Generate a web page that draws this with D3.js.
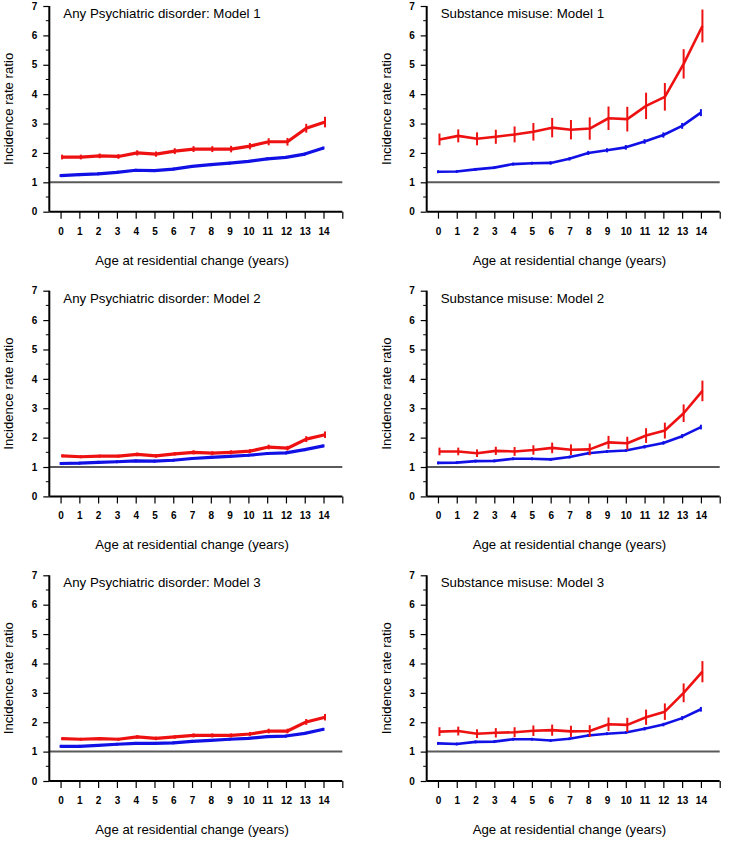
<!DOCTYPE html>
<html>
<head>
<meta charset="utf-8">
<script src="https://cdn.jsdelivr.net/npm/d3@7"></script>
<style>
  html, body { margin: 0; padding: 0; background: #fff; }
  svg { display: block; font-family: "Liberation Sans", Arial, Helvetica, sans-serif; }
</style>
</head>
<body>
<svg id="chart" width="729" height="841"></svg>
<script>
// ---------- data ----------
const ages = [0, 1, 2, 3, 4, 5, 6, 7, 8, 9, 10, 11, 12, 13, 14];
const xTickValues = [0, 1, 2, 3, 4, 5, 6, 7, 8, 9, 10, 11, 12, 13, 14, 15];
const yTickValues = [0, 1, 2, 3, 4, 5, 6, 7];
const yMinorTicks = [0.5, 1.5, 2.5, 3.5, 4.5, 5.5, 6.5];

const titles = [
  "Any Psychiatric disorder: Model 1", "Substance misuse: Model 1",
  "Any Psychiatric disorder: Model 2", "Substance misuse: Model 2",
  "Any Psychiatric disorder: Model 3", "Substance misuse: Model 3"
];

// Any psychiatric disorder, model 1
const psychM1Red     = [1.86, 1.86, 1.90, 1.88, 2.00, 1.96, 2.06, 2.13, 2.13, 2.13, 2.23, 2.38, 2.38, 2.84, 3.05];
const psychM1RedErr  = [0.08, 0.08, 0.08, 0.08, 0.09, 0.09, 0.10, 0.10, 0.10, 0.11, 0.11, 0.12, 0.13, 0.15, 0.18];
const psychM1Blue    = [1.23, 1.26, 1.29, 1.34, 1.41, 1.40, 1.45, 1.54, 1.60, 1.65, 1.71, 1.80, 1.85, 1.96, 2.17];
const psychM1BlueErr = [0.02, 0.02, 0.02, 0.02, 0.02, 0.02, 0.02, 0.03, 0.03, 0.03, 0.03, 0.03, 0.03, 0.04, 0.05];

// Substance misuse, model 1
const substM1Red     = [2.46, 2.58, 2.48, 2.55, 2.63, 2.72, 2.86, 2.79, 2.83, 3.18, 3.15, 3.60, 3.91, 5.03, 6.32];
const substM1RedErr  = [0.20, 0.22, 0.22, 0.24, 0.27, 0.30, 0.33, 0.33, 0.38, 0.40, 0.42, 0.45, 0.47, 0.50, 0.56];
const substM1Blue    = [1.36, 1.37, 1.44, 1.50, 1.62, 1.65, 1.66, 1.80, 2.00, 2.09, 2.19, 2.39, 2.61, 2.92, 3.37];
const substM1BlueErr = [0.04, 0.04, 0.04, 0.05, 0.05, 0.05, 0.06, 0.06, 0.07, 0.07, 0.08, 0.08, 0.09, 0.10, 0.12];

// Any psychiatric disorder, model 2
const psychM2Red     = [1.38, 1.35, 1.37, 1.37, 1.43, 1.38, 1.45, 1.50, 1.47, 1.50, 1.54, 1.68, 1.64, 1.95, 2.10];
const psychM2RedErr  = [0.05, 0.05, 0.05, 0.05, 0.06, 0.06, 0.06, 0.07, 0.07, 0.07, 0.07, 0.08, 0.08, 0.10, 0.11];
const psychM2Blue    = [1.12, 1.13, 1.16, 1.18, 1.21, 1.20, 1.23, 1.29, 1.33, 1.36, 1.40, 1.46, 1.48, 1.59, 1.72];
const psychM2BlueErr = [0.02, 0.02, 0.02, 0.02, 0.02, 0.02, 0.02, 0.02, 0.02, 0.02, 0.02, 0.02, 0.03, 0.03, 0.03];

// Substance misuse, model 2
const substM2Red     = [1.53, 1.53, 1.47, 1.55, 1.53, 1.58, 1.65, 1.59, 1.60, 1.84, 1.81, 2.07, 2.24, 2.83, 3.59];
const substM2RedErr  = [0.13, 0.13, 0.13, 0.14, 0.15, 0.16, 0.18, 0.18, 0.20, 0.22, 0.22, 0.25, 0.27, 0.30, 0.35];
const substM2Blue    = [1.14, 1.15, 1.20, 1.21, 1.28, 1.28, 1.26, 1.34, 1.47, 1.53, 1.56, 1.69, 1.82, 2.05, 2.36];
const substM2BlueErr = [0.03, 0.03, 0.03, 0.03, 0.04, 0.04, 0.04, 0.04, 0.05, 0.05, 0.05, 0.06, 0.06, 0.07, 0.08];

// Any psychiatric disorder, model 3
const psychM3Red     = [1.44, 1.42, 1.44, 1.42, 1.50, 1.45, 1.50, 1.55, 1.55, 1.55, 1.60, 1.70, 1.70, 2.01, 2.17];
const psychM3RedErr  = [0.05, 0.05, 0.05, 0.05, 0.06, 0.06, 0.06, 0.07, 0.07, 0.07, 0.07, 0.08, 0.08, 0.10, 0.11];
const psychM3Blue    = [1.18, 1.18, 1.21, 1.25, 1.28, 1.28, 1.30, 1.35, 1.38, 1.42, 1.45, 1.51, 1.53, 1.62, 1.76];
const psychM3BlueErr = [0.02, 0.02, 0.02, 0.02, 0.02, 0.02, 0.02, 0.02, 0.02, 0.02, 0.02, 0.02, 0.03, 0.03, 0.03];

// Substance misuse, model 3
const substM3Red     = [1.68, 1.70, 1.61, 1.64, 1.66, 1.71, 1.73, 1.69, 1.70, 1.93, 1.91, 2.17, 2.36, 3.00, 3.72];
const substM3RedErr  = [0.15, 0.15, 0.15, 0.16, 0.17, 0.18, 0.19, 0.19, 0.20, 0.23, 0.24, 0.26, 0.28, 0.32, 0.36];
const substM3Blue    = [1.28, 1.26, 1.33, 1.34, 1.42, 1.42, 1.38, 1.44, 1.55, 1.61, 1.65, 1.78, 1.92, 2.14, 2.44];
const substM3BlueErr = [0.03, 0.03, 0.03, 0.03, 0.04, 0.04, 0.04, 0.04, 0.05, 0.05, 0.05, 0.06, 0.06, 0.07, 0.08];

const panelsData = [
  { red: psychM1Red, redErr: psychM1RedErr, blue: psychM1Blue, blueErr: psychM1BlueErr },
  { red: substM1Red, redErr: substM1RedErr, blue: substM1Blue, blueErr: substM1BlueErr },
  { red: psychM2Red, redErr: psychM2RedErr, blue: psychM2Blue, blueErr: psychM2BlueErr },
  { red: substM2Red, redErr: substM2RedErr, blue: substM2Blue, blueErr: substM2BlueErr },
  { red: psychM3Red, redErr: psychM3RedErr, blue: psychM3Blue, blueErr: psychM3BlueErr },
  { red: substM3Red, redErr: substM3RedErr, blue: substM3Blue, blueErr: substM3BlueErr }
];

// ---------- layout ----------
const colX = [49.3, 426.7];      // y-axis x position per column
const rowY = [6, 290.7, 575.3];  // top (value 7) per row
const plotW = 293;
const plotH = 205.7;
const redColor = "#ee1111";
const blueColor = "#1111e6";
const redDodge = 0.08;
const fontStack = "'Liberation Sans', Arial, sans-serif";

const svg = d3.select("#chart");

panelsData.forEach((p, i) => {
  const col = i % 2, row = Math.floor(i / 2);
  const ax = colX[col], top = rowY[row];
  const g = svg.append("g").attr("transform", `translate(${ax},${top})`);

  const x = d3.scaleLinear().domain([-0.6, 15]).range([0, plotW]);
  const y = d3.scaleLinear().domain([0, 7]).range([plotH, 0]);

  // reference line at 1
  g.append("line")
    .attr("x1", x(-0.6)).attr("x2", x(15))
    .attr("y1", y(1)).attr("y2", y(1))
    .attr("stroke", "#5a5a5a").attr("stroke-width", 2);

  // y axis
  const yAxis = g.append("g")
    .call(d3.axisLeft(y).tickValues(yTickValues).tickFormat(d3.format("d")).tickSize(6).tickPadding(6));
  yAxis.select(".domain").attr("stroke", "#000").attr("stroke-width", 2)
    .attr("d", `M0,${y(7)}V${y(0)}`);
  yAxis.selectAll(".tick line").attr("stroke", "#000").attr("stroke-width", 1.2);
  yAxis.selectAll(".tick text").attr("font-size", "10px").attr("font-weight", "bold")
    .attr("fill", "#000").attr("font-family", fontStack);
  g.append("g").selectAll("line").data(yMinorTicks).join("line")
    .attr("x1", -3.5).attr("x2", 0)
    .attr("y1", d => y(d)).attr("y2", d => y(d))
    .attr("stroke", "#000").attr("stroke-width", 1);

  // x axis
  const xAxis = g.append("g").attr("transform", `translate(0,${plotH})`)
    .call(d3.axisBottom(x).tickValues(xTickValues)
      .tickFormat(d => ages.includes(d) ? String(d) : "")
      .tickSize(7).tickPadding(9));
  xAxis.select(".domain").attr("stroke", "#000").attr("stroke-width", 2)
    .attr("d", `M0,0H${x(15)}`);
  xAxis.selectAll(".tick line").attr("stroke", "#000").attr("stroke-width", 1.2);
  xAxis.selectAll(".tick text").attr("font-size", "10px").attr("font-weight", "bold")
    .attr("fill", "#000").attr("font-family", fontStack);

  const lw = col === 0 ? 3.2 : 2.6;

  // blue series
  const blueLine = d3.line().x((d, k) => x(ages[k])).y(d => y(d));
  g.append("path").datum(p.blue)
    .attr("d", blueLine).attr("fill", "none")
    .attr("stroke", blueColor).attr("stroke-width", lw).attr("stroke-linejoin", "round");
  g.append("g").selectAll("line").data(p.blue).join("line")
    .attr("x1", (d, k) => x(ages[k])).attr("x2", (d, k) => x(ages[k]))
    .attr("y1", (d, k) => y(d - Math.max(p.blueErr[k], 0.05)))
    .attr("y2", (d, k) => y(d + Math.max(p.blueErr[k], 0.05)))
    .attr("stroke", blueColor).attr("stroke-width", 2);

  // red series
  const redLine = d3.line().x((d, k) => x(ages[k] + redDodge)).y(d => y(d));
  g.append("path").datum(p.red)
    .attr("d", redLine).attr("fill", "none")
    .attr("stroke", redColor).attr("stroke-width", lw).attr("stroke-linejoin", "round");
  g.append("g").selectAll("line").data(p.red).join("line")
    .attr("x1", (d, k) => x(ages[k] + redDodge)).attr("x2", (d, k) => x(ages[k] + redDodge))
    .attr("y1", (d, k) => y(d - p.redErr[k]))
    .attr("y2", (d, k) => y(d + p.redErr[k]))
    .attr("stroke", redColor).attr("stroke-width", 2);

  // title
  g.append("text").attr("x", 14).attr("y", 12)
    .attr("font-size", "13.3px").attr("fill", "#000").text(titles[i]);

  // y label
  g.append("text")
    .attr("transform", `translate(-36,${plotH / 2}) rotate(-90)`)
    .attr("text-anchor", "middle").attr("font-size", "13.2px").attr("fill", "#000")
    .text("Incidence rate ratio");

  // x label
  g.append("text")
    .attr("x", x(7)).attr("y", plotH + 53)
    .attr("text-anchor", "middle").attr("font-size", "13.2px").attr("fill", "#000")
    .text("Age at residential change (years)");
});
</script>
</body>
</html>
